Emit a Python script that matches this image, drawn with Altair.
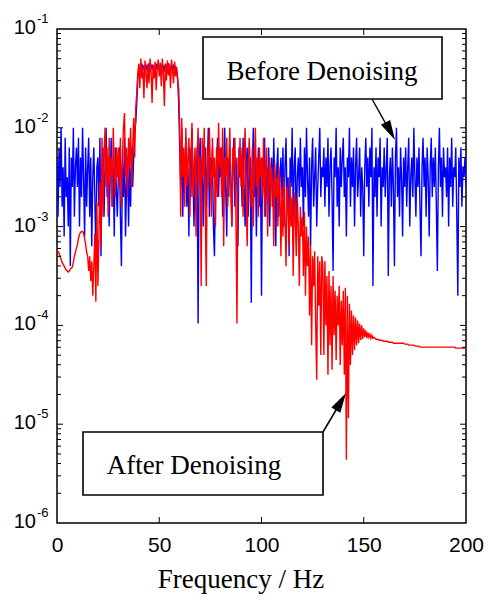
import altair as alt
import pandas as pd

# spectrum values as log10 exponents, 0.5 Hz steps from 0 to 200 Hz
blue_exp = [
    -2.3, -2.9, -2.2, -2.6, -2.0, -2.8, -2.4, -3.1, -2.1, -2.7, -2.5, -3.0, -2.2, -3.4, -2.3, -2.6, -2.0, -2.9, -2.4, -2.2,
    -2.6, -2.1, -3.0, -2.3, -2.7, -2.0, -2.5, -3.1, -2.2, -2.8, -2.4, -2.1, -2.9, -2.3, -3.2, -2.5, -2.2, -2.7, -3.3, -2.4,
    -2.3, -2.8, -2.1, -3.3, -2.5, -2.2, -2.9, -2.4, -2.0, -2.7, -2.3, -3.0, -2.5, -2.1, -2.8, -2.4, -3.1, -2.2, -2.6, -2.9,
    -2.5, -2.2, -2.9, -3.4, -2.4, -2.7, -2.1, -3.1, -2.6, -2.3, -3.0, -2.4, -2.8, -2.2, -2.6, -2.3, -2.0, -1.95, -1.75, -1.5,
    -1.45, -1.38, -1.42, -1.35, -1.40, -1.37, -1.44, -1.36, -1.41, -1.38, -1.35, -1.43, -1.39, -1.36, -1.42, -1.38, -1.40, -1.35, -1.41, -1.37,
    -1.38, -1.42, -1.36, -1.40, -1.37, -1.43, -1.35, -1.39, -1.41, -1.36, -1.38, -1.42, -1.37, -1.40, -1.36, -1.44, -1.39, -1.42, -1.50, -1.75,
    -2.2, -2.6, -2.0, -2.9, -2.3, -2.5, -2.1, -2.8, -2.4, -3.1, -2.2, -2.7, -2.0, -2.5, -3.0, -2.3, -2.6, -2.2, -3.98, -2.4,
    -2.1, -2.7, -2.3, -3.0, -2.5, -2.2, -2.8, -2.4, -2.0, -2.9, -2.3, -2.6, -2.2, -3.0, -3.3, -2.5, -2.4, -2.1, -2.7, -2.3,
    -2.5, -2.2, -2.9, -2.4, -2.0, -2.6, -3.1, -2.3, -2.7, -2.2, -2.5, -3.0, -2.4, -2.1, -2.8, -2.3, -2.6, -3.2, -2.2, -2.5,
    -2.3, -2.8, -2.1, -2.6, -3.0, -2.4, -2.2, -2.9, -2.5, -2.3, -3.77, -2.4, -2.0, -2.7, -2.3, -3.1, -2.5, -2.2, -2.8, -2.4,
    -3.7, -2.3, -2.6, -2.1, -2.9, -2.4, -2.7, -2.2, -3.0, -2.5, -2.3, -2.8, -2.1, -2.6, -3.2, -2.4, -2.2, -2.9, -2.5, -2.3,
    -2.7, -2.2, -3.0, -2.4, -2.1, -2.8, -2.5, -3.3, -2.3, -2.6, -2.0, -2.9, -2.4, -2.2, -3.1, -2.5, -2.3, -2.7, -2.1, -2.6,
    -2.4, -3.0, -2.2, -2.7, -2.0, -2.5, -2.9, -2.3, -3.2, -2.4, -2.1, -2.8, -2.5, -2.2, -3.0, -2.6, -2.3, -2.0, -2.7, -2.4,
    -2.5, -2.2, -2.8, -2.3, -2.6, -2.1, -2.9, -2.4, -2.2, -2.7, -3.45, -2.3, -2.5, -2.0, -2.8, -2.4, -3.0, -2.2, -2.6, -2.3,
    -2.1, -2.7, -2.4, -3.1, -2.3, -2.5, -2.0, -2.8, -2.3, -2.6, -2.2, -3.0, -2.4, -2.1, -2.7, -2.5, -2.2, -2.9, -2.4, -2.6,
    -3.3, -2.4, -2.1, -2.6, -2.3, -2.8, -2.2, -2.5, -2.0, -3.6, -2.4, -2.7, -2.2, -2.9, -2.3, -2.5, -2.1, -3.0, -2.4, -2.6,
    -2.2, -2.7, -2.4, -2.1, -3.5, -2.5, -2.3, -2.8, -2.2, -2.6, -3.4, -2.3, -2.0, -2.7, -2.4, -2.9, -2.2, -2.5, -3.1, -2.3,
    -2.6, -2.2, -2.8, -2.4, -2.1, -3.0, -2.5, -2.3, -2.7, -2.0, -2.5, -2.9, -2.3, -2.6, -2.2, -2.8, -3.3, -2.4, -2.1, -2.6,
    -2.3, -2.9, -2.2, -2.5, -3.1, -2.4, -2.1, -2.7, -2.3, -2.6, -2.2, -2.8, -3.45, -2.4, -2.0, -2.6, -2.3, -2.9, -2.2, -2.5,
    -2.4, -2.7, -2.2, -3.0, -2.3, -2.6, -2.1, -2.8, -2.4, -2.5, -2.2, -2.9, -3.7, -2.3, -2.6, -2.2, -2.8, -2.4, -2.5, -2.3,
    -2.6,
]

red_exp = [
    -3.24, -3.25, -3.27, -3.30, -3.33, -3.36, -3.38, -3.40, -3.42, -3.44, -3.45, -3.46, -3.45, -3.43, -3.42, -3.41, -3.36, -3.30, -3.26, -3.22,
    -3.18, -3.12, -3.08, -3.06, -3.05, -3.05, -3.07, -3.12, -3.18, -3.26, -3.30, -3.45, -3.30, -3.55, -3.35, -3.70, -3.40, -3.07, -3.76, -2.75,
    -3.60, -3.10, -2.55, -3.20, -2.10, -2.90, -2.30, -2.00, -2.60, -2.20, -2.90, -2.10, -2.50, -2.30, -2.80, -2.00, -2.40, -2.70, -2.20, -2.50,
    -2.20, -2.60, -2.10, -2.80, -2.30, -2.00, -1.85, -2.50, -2.20, -2.70, -2.10, -2.40, -2.00, -2.60, -2.20, -1.90, -2.30, -1.80, -1.65, -1.45,
    -1.35, -1.60, -1.30, -1.50, -1.38, -1.70, -1.32, -1.45, -1.60, -1.35, -1.55, -1.30, -1.42, -1.75, -1.36, -1.50, -1.33, -1.62, -1.40, -1.31,
    -1.48, -1.34, -1.58, -1.30, -1.44, -1.78, -1.36, -1.52, -1.32, -1.47, -1.35, -1.60, -1.31, -1.42, -1.55, -1.33, -1.48, -1.38, -1.52, -1.60,
    -2.00, -2.90, -1.90, -2.50, -2.20, -2.80, -2.00, -2.60, -2.30, -2.10, -2.90, -2.30, -1.95, -2.70, -2.40, -2.20, -3.10, -2.30, -2.00, -2.60,
    -2.30, -3.60, -2.10, -2.50, -2.00, -2.80, -3.60, -2.20, -2.60, -2.00, -2.40, -2.90, -2.10, -2.50, -2.30, -3.00, -2.20, -2.70, -1.95, -2.40,
    -2.20, -2.70, -2.00, -3.20, -2.30, -2.50, -2.10, -2.80, -2.40, -2.00, -2.60, -3.00, -2.20, -2.40, -2.10, -2.90, -3.98, -2.30, -2.50, -2.10,
    -2.60, -2.20, -2.90, -2.30, -2.00, -2.70, -3.20, -2.40, -2.10, -2.50, -2.80, -2.20, -3.00, -2.40, -2.00, -2.60, -2.30, -2.90, -2.20, -2.50,
    -2.30, -2.70, -2.10, -2.90, -2.40, -2.20, -3.10, -2.50, -2.30, -2.80, -2.40, -2.60, -3.20, -2.35, -2.70, -2.50, -3.00, -2.40, -2.60, -3.30,
    -2.60, -3.10, -2.50, -2.90, -3.40, -2.60, -2.80, -3.20, -2.55, -3.00, -2.70, -3.50, -2.65, -2.90, -3.30, -2.70, -3.00, -3.60, -2.80, -3.10,
    -2.90, -3.50, -2.85, -3.70, -3.00, -3.40, -3.10, -3.90, -3.20, -4.20, -3.30, -3.60, -3.25, -4.00, -4.55, -3.30, -3.80, -3.35, -4.30, -3.30,
    -3.40, -4.30, -3.35, -4.00, -3.50, -4.50, -3.45, -4.20, -3.60, -4.45, -3.50, -4.10, -3.65, -4.35, -3.70, -4.00, -3.60, -4.40, -3.75, -4.20,
    -3.65, -4.50, -3.62, -5.36, -3.70, -4.94, -3.78, -4.40, -3.85, -4.30, -3.90, -4.25, -3.92, -4.20, -3.95, -4.18, -3.98, -4.15, -4.00, -4.14,
    -4.03, -4.12, -4.05, -4.13, -4.07, -4.12, -4.09, -4.13, -4.10, -4.13, -4.12, -4.13, -4.14, -4.14, -4.14, -4.15, -4.15, -4.15, -4.15, -4.16,
    -4.16, -4.16, -4.16, -4.16, -4.17, -4.17, -4.17, -4.17, -4.17, -4.18, -4.18, -4.18, -4.18, -4.18, -4.18, -4.18, -4.18, -4.18, -4.18, -4.18,
    -4.19, -4.19, -4.19, -4.19, -4.20, -4.20, -4.20, -4.20, -4.20, -4.20, -4.21, -4.21, -4.21, -4.21, -4.21, -4.22, -4.22, -4.22, -4.22, -4.22,
    -4.22, -4.22, -4.22, -4.22, -4.22, -4.22, -4.22, -4.22, -4.22, -4.22, -4.22, -4.22, -4.22, -4.22, -4.22, -4.22, -4.22, -4.22, -4.22, -4.22,
    -4.22, -4.22, -4.22, -4.22, -4.22, -4.22, -4.22, -4.22, -4.22, -4.22, -4.23, -4.23, -4.23, -4.23, -4.23, -4.23, -4.23, -4.23, -4.23, -4.23,
    -4.23,
]

freq_step = 0.5
x_tick_values = [0, 50, 100, 150, 200]
x_inner_ticks = [50, 100, 150]
y_decades = [-1, -2, -3, -4, -5, -6]
y_inner_decades = [-2, -3, -4, -5]
minor_mults = [2, 3, 4, 5, 6, 7, 8, 9]

n = min(len(blue_exp), len(red_exp))
df = pd.DataFrame({
    "f": [i * freq_step for i in range(n)],
    "blue": [10.0 ** v for v in blue_exp[:n]],
    "red": [10.0 ** v for v in red_exp[:n]],
})

W, H = 409, 494
xs = alt.Scale(domain=[0, 200], nice=False, zero=False)
ys = alt.Scale(type="log", domain=[1e-6, 1e-1], nice=False)
xaxis = alt.Axis(values=x_tick_values, grid=False, domain=False, ticks=False,
                 labelFont="Liberation Sans", labelFontSize=21, labelColor="black",
                 labelPadding=11, labelFlush=False, title=None)

blue_line = alt.Chart(df).mark_line(color="#0000ff", strokeWidth=1.4, clip=True).encode(
    x=alt.X("f:Q", scale=xs, axis=xaxis),
    y=alt.Y("blue:Q", scale=ys, axis=None),
)
red_line = alt.Chart(df).mark_line(color="#ff0000", strokeWidth=1.4, clip=True).encode(
    x=alt.X("f:Q", scale=xs, axis=xaxis),
    y=alt.Y("red:Q", scale=ys, axis=None),
)

# inner tick marks
xt = pd.DataFrame({"f": x_inner_ticks})
xt_bottom = alt.Chart(xt).mark_rule(color="black", strokeWidth=1).encode(
    x=alt.X("f:Q", scale=xs, axis=xaxis), y=alt.value(H), y2=alt.value(H - 6))
xt_top = alt.Chart(xt).mark_rule(color="black", strokeWidth=1).encode(
    x=alt.X("f:Q", scale=xs, axis=xaxis), y=alt.value(0), y2=alt.value(6))

ymaj = pd.DataFrame({"v": [10.0 ** d for d in y_inner_decades]})
ymin = pd.DataFrame({"v": [m * 10.0 ** d for d in [-6, -5, -4, -3, -2] for m in minor_mults]})
yt = []
for dfv, ln in [(ymaj, 6), (ymin, 4)]:
    yt.append(alt.Chart(dfv).mark_rule(color="black", strokeWidth=1).encode(
        y=alt.Y("v:Q", scale=ys, axis=None), x=alt.value(0), x2=alt.value(ln)))
    yt.append(alt.Chart(dfv).mark_rule(color="black", strokeWidth=1).encode(
        y=alt.Y("v:Q", scale=ys, axis=None), x=alt.value(W), x2=alt.value(W - ln)))

# y labels 10^n
ylab = pd.DataFrame({"v": [10.0 ** d for d in y_decades], "e": [str(d) for d in y_decades], "b": ["10"] * len(y_decades)})
ylab_base = alt.Chart(ylab).mark_text(align="right", baseline="middle", font="Liberation Sans",
                                      fontSize=20, color="black", dy=-1).encode(
    y=alt.Y("v:Q", scale=ys, axis=None), x=alt.value(-21), text="b:N")
ylab_exp = alt.Chart(ylab).mark_text(align="left", baseline="middle", font="Liberation Sans",
                                     fontSize=13, color="black", dy=-10).encode(
    y=alt.Y("v:Q", scale=ys, axis=None), x=alt.value(-20), text="e:N")

one = pd.DataFrame({"a": [0]})
xtitle = alt.Chart(one).mark_text(align="center", baseline="alphabetic", font="Liberation Serif",
                                  fontSize=27, color="black").encode(
    x=alt.value(184), y=alt.value(559), text=alt.value("Frequency / Hz"))

# annotations
box_before = alt.Chart(one).mark_rect(fill="white", stroke="black", strokeWidth=1.6).encode(
    x=alt.value(146), x2=alt.value(385), y=alt.value(8), y2=alt.value(70))
txt_before = alt.Chart(one).mark_text(align="center", baseline="alphabetic", font="Liberation Serif",
                                      fontSize=27, color="black").encode(
    x=alt.value(265), y=alt.value(51), text=alt.value("Before Denoising"))
arr_before_line = alt.Chart(one).mark_rule(color="black", strokeWidth=1.5).encode(
    x=alt.value(315), y=alt.value(70), x2=alt.value(334), y2=alt.value(104))
head_shape = "M0,0 L0.26,1 L-0.26,1 Z"
arr_before_head = alt.Chart(one).mark_point(shape=head_shape, filled=True, color="black",
                                            opacity=1, size=1600, angle=151.8, strokeWidth=0).encode(
    x=alt.value(338), y=alt.value(111))

box_after = alt.Chart(one).mark_rect(fill="white", stroke="black", strokeWidth=1.6).encode(
    x=alt.value(26), x2=alt.value(266), y=alt.value(403), y2=alt.value(466))
txt_after = alt.Chart(one).mark_text(align="center", baseline="alphabetic", font="Liberation Serif",
                                     fontSize=27, color="black").encode(
    x=alt.value(137), y=alt.value(445), text=alt.value("After Denoising"))
arr_after_line = alt.Chart(one).mark_rule(color="black", strokeWidth=1.5).encode(
    x=alt.value(266), y=alt.value(403), x2=alt.value(285), y2=alt.value(371))
arr_after_head = alt.Chart(one).mark_point(shape=head_shape, filled=True, color="black",
                                           opacity=1, size=1600, angle=30.5, strokeWidth=0).encode(
    x=alt.value(289), y=alt.value(364))

chart = alt.layer(
    blue_line, red_line, xt_bottom, xt_top, *yt, ylab_base, ylab_exp, xtitle,
    box_before, txt_before, arr_before_line, arr_before_head,
    box_after, txt_after, arr_after_line, arr_after_head,
).properties(
    width=W, height=H,
    padding={"left": 57, "top": 29, "right": 22, "bottom": 78},
    autosize=alt.AutoSizeParams(type="none"),
    background="white",
).configure_view(stroke="black", strokeWidth=1.5)

chart.save("out.html", embed_options={"renderer": "svg", "actions": False})
